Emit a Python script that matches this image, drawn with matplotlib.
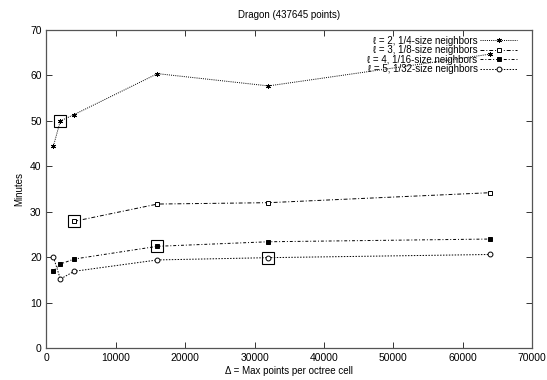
import matplotlib
matplotlib.use("Agg")
import matplotlib.pyplot as plt

plt.rcParams["font.family"] = ["Liberation Sans", "DejaVu Sans"]

# data
x_l2 = [1000, 2000, 4000, 16000, 32000, 64000]
y_l2 = [44.5, 50.0, 51.4, 60.4, 57.7, 64.7]
x_l3 = [4000, 16000, 32000, 64000]
y_l3 = [27.9, 31.7, 32.0, 34.2]
x_l4 = [1000, 2000, 4000, 16000, 32000, 64000]
y_l4 = [17.0, 18.5, 19.6, 22.4, 23.4, 24.0]
x_l5 = [1000, 2000, 4000, 16000, 32000, 64000]
y_l5 = [20.0, 15.2, 16.9, 19.4, 19.9, 20.6]
labels = ["ℓ = 2, 1/4-size neighbors", "ℓ = 3, 1/8-size neighbors",
          "ℓ = 4, 1/16-size neighbors", "ℓ = 5, 1/32-size neighbors"]
# best choice per series (boxed)
best_x = [2000, 4000, 16000, 32000]
best_y = [50.0, 27.9, 22.4, 19.9]

fig = plt.figure(figsize=(5.47, 3.80), dpi=100)
ax = fig.add_axes([0.085, 0.084, 0.8875, 0.837])

kw = dict(color="black", lw=0.7, ms=3.5, mew=0.7)
ax.plot(x_l2, y_l2, ls=(0, (1, 1.2)), marker=(6, 2, 0), label=labels[0], **kw)
ax.plot(x_l3, y_l3, ls=(0, (4, 2, 1, 2)), marker="s", mfc="white", label=labels[1], **kw)
ax.plot(x_l4, y_l4, ls=(0, (3, 2, 1, 2)), marker="s", mfc="black", label=labels[2], **kw)
ax.plot(x_l5, y_l5, ls=(0, (1.5, 1.5)), marker="o", mfc="white", label=labels[3], **kw)
ax.plot(best_x, best_y, ls="none", marker="s", ms=9, mfc="none", mec="black", mew=0.8)

ax.set_xlim(0, 70000)
ax.set_ylim(0, 70)
ax.set_xticks(range(0, 70001, 10000))
ax.set_yticks(range(0, 71, 10))
ax.tick_params(direction="in", length=4, width=0.7, labelsize=7.5, top=True, right=True,
               colors="#333333", labelcolor="black")
for s in ax.spines.values():
    s.set_linewidth(0.9)
    s.set_color("#555555")

ax.set_title("Dragon (437645 points)", fontsize=7, pad=9)
ax.set_xlabel("Δ = Max points per octree cell", fontsize=7, labelpad=2)
ax.set_ylabel("Minutes", fontsize=7)

leg = ax.legend(loc="upper right", bbox_to_anchor=(0.982, 1.0), frameon=False,
                markerfirst=False, fontsize=7, handlelength=3.8, labelspacing=-0.05,
                borderaxespad=0.2, handletextpad=0.3)

fig.savefig("out.png", dpi=100)
